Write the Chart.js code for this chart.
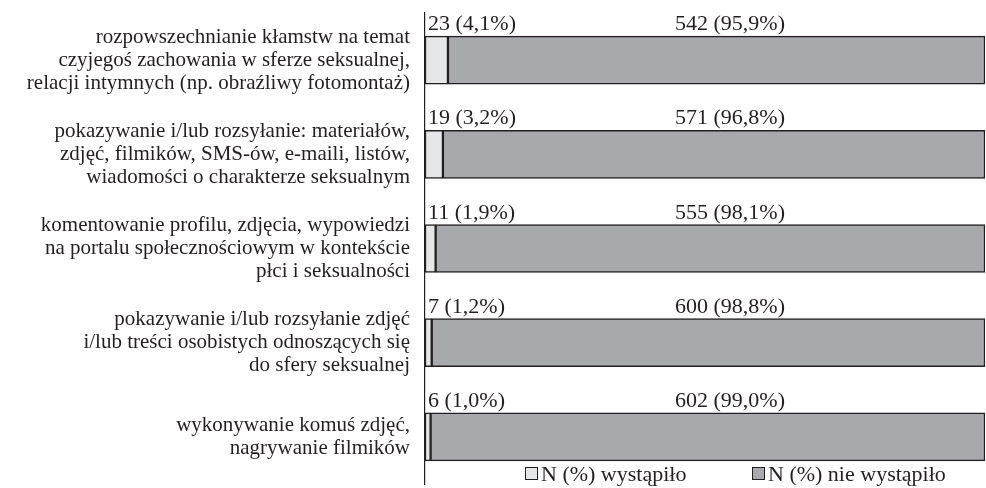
<!DOCTYPE html>
<html>
<head>
<meta charset="utf-8">
<script src="https://cdn.jsdelivr.net/npm/chart.js@4.4.1/dist/chart.umd.min.js"></script>
<style>
  html, body { margin: 0; padding: 0; background: #fff; }
  #wrap { width: 986px; height: 488px; }
</style>
</head>
<body>
<div id="wrap"><canvas id="chart" width="986" height="488"></canvas></div>
<script>
// categories (multi-line labels)
const categories = [
    ["rozpowszechnianie kłamstw na temat", "czyjegoś zachowania w sferze seksualnej,", "relacji intymnych (np. obraźliwy fotomontaż)"],
    ["pokazywanie i/lub rozsyłanie: materiałów,", "zdjęć, filmików, SMS-ów, e-maili, listów,", "wiadomości o charakterze seksualnym"],
    ["komentowanie profilu, zdjęcia, wypowiedzi", "na portalu społecznościowym w kontekście", "płci i seksualności"],
    ["pokazywanie i/lub rozsyłanie zdjęć", "i/lub treści osobistych odnoszących się", "do sfery seksualnej"],
    ["wykonywanie komuś zdjęć,", "nagrywanie filmików"]
];

const seriesNames = ["N (%) wystąpiło", "N (%) nie wystąpiło"];

// counts and percentages
const occurredN = [23, 19, 11, 7, 6];
const occurredPct = [4.1, 3.2, 1.9, 1.2, 1.0];
const notOccurredN = [542, 571, 555, 600, 602];
const notOccurredPct = [95.9, 96.8, 98.1, 98.8, 99.0];

const FONT = "'Liberation Serif', 'DejaVu Serif', serif";
const FONT_SIZE = 21;
const VALUE_SIZE = 22;
const colors = ["#e6e7e8", "#a7a9ac"];
const edge = "#231f20";

function fmt(n, p) {
    return n + " (" + p.toFixed(1).replace(".", ",") + "%)";
}

// value labels above each bar
const valueLabels = {
    id: 'valueLabels',
    afterDatasetsDraw(chart) {
        const ctx = chart.ctx;
        const area = chart.chartArea;
        const meta0 = chart.getDatasetMeta(0);
        ctx.save();
        ctx.font = VALUE_SIZE + "px " + FONT;
        ctx.fillStyle = "#231f20";
        ctx.textBaseline = "alphabetic";
        ctx.textAlign = "left";
        meta0.data.forEach((bar, i) => {
            const top = bar.y - bar.height / 2;
            ctx.fillText(fmt(occurredN[i], occurredPct[i]), area.left + 3, top - 6);
            ctx.fillText(fmt(notOccurredN[i], notOccurredPct[i]), area.left + 250, top - 6);
        });
        ctx.restore();
    }
};

// legend along the bottom
const bottomLegend = {
    id: 'bottomLegend',
    afterDraw(chart) {
        const ctx = chart.ctx;
        const area = chart.chartArea;
        const items = [{ x: area.left + 100 }, { x: area.left + 327 }];
        ctx.save();
        ctx.font = VALUE_SIZE + "px " + FONT;
        ctx.textBaseline = "alphabetic";
        ctx.textAlign = "left";
        items.forEach((it, i) => {
            const y = 467;
            ctx.fillStyle = colors[i];
            ctx.fillRect(it.x, y, 13, 13);
            ctx.strokeStyle = edge;
            ctx.lineWidth = 1;
            ctx.strokeRect(it.x + 0.5, y + 0.5, 12, 12);
            ctx.fillStyle = "#231f20";
            ctx.fillText(seriesNames[i], it.x + 16, 481);
        });
        ctx.restore();
    }
};

const ctx = document.getElementById('chart').getContext('2d');
const chart = new Chart(ctx, {
    type: 'bar',
    data: {
        labels: categories,
        datasets: [{
            label: seriesNames[0],
            data: occurredPct,
            backgroundColor: colors[0],
            borderColor: edge,
            borderWidth: 1.5,
            borderSkipped: false
        }, {
            label: seriesNames[1],
            data: notOccurredPct,
            backgroundColor: colors[1],
            borderColor: edge,
            borderWidth: 1.5,
            borderSkipped: false
        }]
    },
    options: {
        indexAxis: 'y',
        responsive: false,
        animation: false,
        layout: { padding: { top: 13, bottom: 4, right: 1, left: 0 } },
        datasets: { bar: { barThickness: 48 } },
        scales: {
            x: {
                stacked: true,
                min: 0,
                max: 100,
                display: false
            },
            y: {
                stacked: true,
                grid: { display: false, drawTicks: false },
                border: { display: true, color: edge, width: 1.2 },
                ticks: {
                    color: "#231f20",
                    padding: 15,
                    font: { family: FONT, size: FONT_SIZE, lineHeight: 1.1 }
                },
                afterFit(scale) {
                    scale.width = 425;
                    scale.paddingTop = 0;
                    scale.paddingBottom = 0;
                }
            }
        },
        plugins: {
            legend: { display: false },
            tooltip: { enabled: false }
        }
    },
    plugins: [valueLabels, bottomLegend]
});
</script>
</body>
</html>
